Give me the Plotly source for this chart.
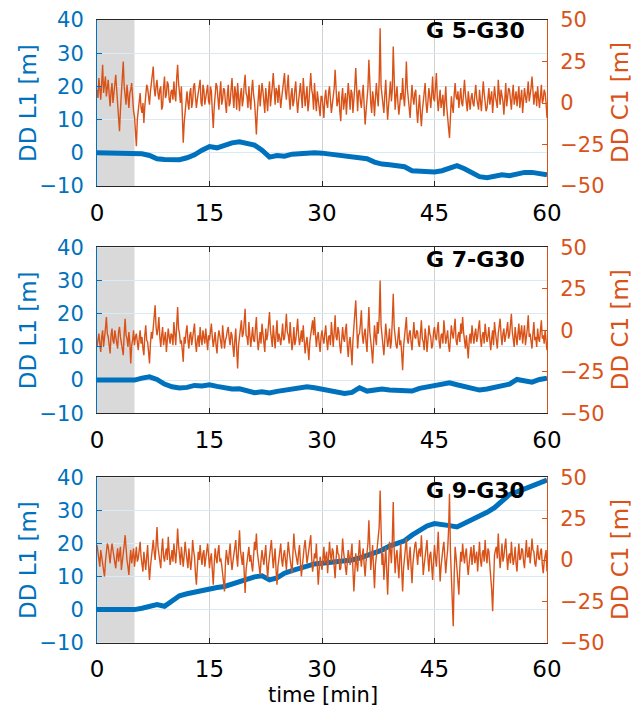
import plotly.graph_objects as go

# ---------------- data ----------------
time_l1 = list(range(0, 61))  # minutes, 1-min samples for DD L1

x_ticks = [0, 15, 30, 45, 60]
l1_ticks = [-10, 0, 10, 20, 30, 40]
c1_ticks = [-50, -25, 0, 25, 50]
pair_names = ["G 5-G30", "G 7-G30", "G 9-G30"]

l1_g5 = [0, 0, 0, 0, 0, 0, -0.3, -0.8, -1.8, -2.0, -1.9, -2.1, -1.5, -0.6, 0.8, 1.9, 1.5, 2.2, 3.0, 3.3,
         2.9, 2.3, 0.8, -1.3, -0.8, -1.0, -0.4, -0.2, 0.1, 0.0, -0.1, -0.4, -0.7, -0.9, -1.1, -1.6, -1.8, -2.8, -3.4, -3.6,
         -3.8, -4.2, -5.4, -5.6, -5.7, -5.8, -5.4, -4.6, -3.9, -4.8, -6.0, -7.2, -7.5, -7.1, -6.6, -6.9, -6.3, -5.9, -5.9, -6.4,
         -6.6]
l1_g7 = [0, 0, 0, 0, 0, 0, 0.6, 1.0, 0.2, -1.2, -2.0, -2.4, -2.2, -1.6, -1.8, -1.4, -1.9, -2.3, -2.7, -2.6,
         -3.2, -3.8, -3.5, -3.9, -3.4, -3.1, -2.8, -2.4, -2.0, -2.3, -2.7, -3.0, -3.5, -4.0, -3.7, -2.3, -3.3, -3.0, -2.7, -3.0,
         -3.1, -2.9, -3.3, -2.5, -2.0, -1.5, -1.2, -0.8, -1.4, -2.0, -2.5, -3.0, -2.7, -2.2, -1.8, -1.2, 0.2, -0.3, -0.6, 0.2,
         0.6]
l1_g9 = [0, 0, 0, 0, 0, 0, 0.4, 0.9, 1.5, 1.0, 2.8, 4.2, 4.8, 5.3, 6.0, 6.4, 6.7, 7.0, 7.8, 8.6,
         9.3, 9.9, 10.2, 9.0, 9.6, 11.0, 11.8, 12.4, 13.2, 13.8, 14.0, 14.2, 14.6, 14.8, 15.0, 15.6, 16.3, 17.0, 18.0, 19.2,
         20.0, 20.8, 22.5, 24.0, 25.3, 26.0, 25.8, 25.4, 25.0, 26.0, 27.0, 28.3, 29.4, 30.8, 33.0, 34.8, 35.6, 36.6, 37.6, 38.4,
         39.2]

# DD C1, 7.5-s samples (0 .. 60 min)
c1_g5 = [8, 3, 15, 9, 2, 12, 23, 6, 10, 16, 4, 11, 14, 5, -2, 7, 12, 0, 6, 13, 17, 8, 1, -6, -17, -4, 9, 14, 25, 10, 5, -1, 11, 4, -3, 6, 8, 12, 2, -5,
         -8, -15, -26, -10, -4, 2, 6, -3, -6, 0, -12, -2, 3, 11, 9, 1, -1, 7, 12, 15, 22, 9, 4, 10, 14, 6, 2, 8, 10, -4, -2, 9, 16, 3, 5, 13, 11, 2, 0, 7,
         8, 2, 13, 5, 1, 15, 23, 12, 6, 0, 10, -9, -24, -12, -5, 4, 7, 0, -4, 6, 9, -3, 1, 10, 12, 4, -3, 2, 6, 9, 14, 0, -2, 11, 8, -1, 3, 7, 11, 1,
         -1, 10, 7, -5, -15, -3, 4, 12, 10, 1, -4, 6, 13, -1, 2, 9, 8, 0, -6, 5, 11, -2, 0, 8, 15, 4, -3, 10, 6, -4, 12, 3, -5, 5, 9, -2, 2, 11, 17, 6,
         4, -3, 10, 2, -4, 8, 14, 5, 1, -8, -19, -6, 6, 11, -2, 4, 12, 7, 0, -6, 9, 1, -5, 6, 13, -2, 3, 10, 18, 5, -1, 9, 7, 0, 11, 4, -3, 3, 8, 13,
         18, 7, 2, 10, 17, 3, -4, 5, 9, -2, 1, 8, 13, 2, -6, 1, 8, 12, 4, -3, 15, 6, -2, 4, 10, -5, 0, 9, 18, 8, 5, -4, 12, 2, -5, 7, 3, -2, -8, 4,
         4, -2, -9, 3, 8, 0, -3, 6, 10, 2, -6, -1, 5, 9, 20, 4, -2, 1, 7, -5, -11, 3, 9, -4, 1, 6, -7, 2, 12, 5, -4, 8, 6, -6, 0, 10, 21, 3, -5, 7,
         8, 1, -3, 5, 11, -2, -13, -5, 4, 9, 26, 6, 0, -6, 7, 2, -8, 3, 12, 4, -2, 14, 45, 10, 3, -3, -6, 5, 14, 1, -10, -2, 9, 13, 1, 8, 34, 6, -4, 4,
         10, 0, -7, -1, 6, 2, 15, 4, -2, 8, 25, 9, 3, -4, -9, 2, 11, 3, -1, 6, 8, -4, -12, -3, 5, -6, -14, -5, 2, 7, 12, 0, -6, 1, 9, 4, -3, 5, 16, 3,
         1, 9, 18, 3, -5, 2, 8, -3, 0, 5, -8, 1, 10, -2, -11, -15, -21, -7, 4, -2, -6, 5, 12, 4, 2, 7, -3, 3, 9, 0, -2, 6, 14, 5, 1, -5, 7, 2, -4, 3,
         6, 0, -2, 5, 11, 3, 0, -4, 8, 2, -5, 4, 13, 6, 2, -5, -3, 3, 9, -1, 4, 7, -6, 0, 10, 4, 1, -3, 14, 6, -1, 8, 5, 1, -7, 4, 12, -2, 3, 9,
         8, 1, -4, 5, 11, -1, 2, 7, -2, 3, 10, -3, 5, 8, -6, 2, 9, 4, 0, 6, 13, 1, 4, 9, 16, 2, -1, 5, 7, -2, 10, 3, -3, 4, 11, 0, 2, 8, 6, 0,
         -9]
c1_g7 = [-10, -5, -2, -8, -13, -4, 0, -10, -6, 1, 8, -2, -4, -9, -14, -3, 1, -6, -8, 0, -3, -7, -11, -1, 2, -4, -7, -12, -15, -2, 7, -3, -5, -10, -1, -7, -20, -9, -6, 0,
         -9, -4, -2, -7, -12, -5, 0, -8, -4, -11, -15, -3, 3, -6, -7, -13, -20, -8, -1, -5, 4, 6, 15, 2, -3, 1, 8, -4, -10, -3, 2, -9, -6, -1, -13, -7, 1, -4, -8, -2,
         -3, -9, 5, -2, -9, 3, 14, 1, -2, -8, -6, -12, -19, -4, -8, -1, 3, -6, -11, -3, -1, -9, -5, 0, 4, -7, -13, -6, -3, -10, 2, -5, -9, 0, -4, -8, 1, -6, -12, -3,
         -6, -1, 4, -4, -10, -6, -1, -9, -14, -5, 0, -3, -7, -11, 3, -2, -11, -6, -4, 0, 2, -5, -9, -1, -3, -10, -16, -6, 1, -12, -23, -9, -5, 2, 6, -4, -2, 5, 13, -3,
         -4, -9, 5, -3, -10, -4, 2, -6, -7, 1, 8, -5, -12, -6, -1, -8, 4, -2, -8, -13, 1, -6, -3, 2, 11, 0, -6, -10, 3, -4, -11, -2, 6, -7, -2, -5, -9, -3, 4, -6,
         -5, 1, 10, -1, -3, -8, 5, -4, -12, -7, 2, -9, -6, 0, 7, -3, -9, -5, 0, -7, 3, -6, -14, -8, -4, -11, -18, -7, -2, 1, 6, -3, 8, -2, -10, -4, -1, -8, -13, -4,
         0, -5, -8, -2, 3, -6, -12, -4, -3, -9, 5, -2, -10, -1, 9, -4, -6, 2, -1, -9, -14, -6, 2, -5, -7, 0, 4, -9, -16, -7, -4, -12, -21, -6, 6, 10, 18, 0, -11, -3,
         -2, 4, 12, -3, -8, -2, 1, -7, -13, 0, 14, -1, -5, -12, -20, -6, 3, -4, -9, 5, -2, 8, 30, 3, -6, -9, -15, -5, 4, -3, -10, -6, 1, -11, -7, 6, 22, 2, -4, -9,
         -11, -4, 2, -9, -6, -14, -24, -10, -3, 1, 8, -5, -8, -2, 0, -7, -12, -3, 5, -4, -5, 0, -1, -8, -10, -2, 6, -5, -7, -12, 1, -4, -13, -6, 3, -2, -4, -11, -9, -1,
         2, -4, -6, 0, 5, -7, -11, -3, -2, -8, 6, -1, -8, -4, 0, -9, -13, -5, 3, -2, -5, 1, 7, -6, -9, -3, -1, -7, 4, -2, 8, -1, -7, -11, -3, -10, -17, -6, -2, -8,
         3, -3, -8, -2, 1, -7, -4, 2, 6, -5, -10, -3, -1, -8, 4, -2, -7, -4, 2, -6, -12, -5, 0, -9, 5, -1, -6, -11, -2, 3, 7, -3, -9, -2, 1, -7, -4, 0, 5, -5,
         -3, 2, 10, -1, -6, -10, 2, -4, -9, -2, 4, -6, -1, 3, -8, -3, 3, -9, -5, 1, 9, -4, -2, -7, -11, -2, 5, -6, -4, -10, 1, -5, -7, 0, 6, -5, -3, -8, 0, -6,
         -12]
c1_g9 = [9, 4, 2, -4, 6, 1, -3, -7, -10, -1, 4, 10, 8, 3, -2, 5, 10, 6, 1, -3, -5, 2, 7, -1, 3, 8, -6, -2, 5, 9, 15, 4, 0, -4, -9, 0, 6, -2, 2, 7,
         -4, 3, 8, -1, 1, 6, 11, 2, -2, -7, 5, 0, -6, 2, 9, -3, -12, -4, 3, 7, 12, 5, 0, 9, 20, 8, 4, -1, -5, 6, 13, 2, -1, 4, 7, 0, 14, 5, -3, 1,
         6, -1, 10, 4, -2, 7, 19, 9, 3, -3, 8, 1, -4, 3, 11, 5, 1, -5, 7, 2, -6, 0, 12, 6, 2, -8, -15, -5, 5, 0, 9, 2, -3, 4, 6, -4, 0, 7, 10, 3,
         -5, 1, 4, -6, -15, -3, 7, 2, -2, 5, 9, -1, 1, -3, -8, -12, -19, -2, 6, 1, -3, 4, 10, 0, -6, -1, 3, 8, 12, 2, -4, 7, 18, 6, 2, -3, 5, -8, -20, -6,
         -2, 4, 8, -1, 3, -3, -7, 2, 11, 6, 16, 5, 1, -4, -9, 0, 6, 1, -3, 3, 9, -2, -11, -3, 4, 7, 12, 2, -5, 1, 7, -6, -15, -4, 2, 6, 10, 0, -4, 3,
         6, 0, -6, 3, 11, 5, 1, -3, -8, 4, 16, 7, 3, -1, -3, 4, 9, -2, -10, -4, 5, 8, 12, 3, -2, 2, 7, 9, 15, 1, -7, -2, 4, 1, 10, -3, -15, -6, 2, -2,
         -6, 1, 8, -2, 2, 5, -8, -1, 11, 3, -1, 7, 5, -4, -11, 0, 9, 4, 3, -6, -5, 2, 13, 5, 0, -4, -9, -1, 6, 2, -3, 4, 10, -6, -19, -8, 4, -2, -7, 3,
         12, 2, -4, 3, 7, -3, -10, -1, 3, 10, 24, 5, -6, 1, 9, -5, -17, -3, 5, 8, 14, 20, 42, 9, -3, 4, -12, -2, 8, -6, -21, -4, 11, 6, -2, 12, 35, 6, -8, 2,
         6, -3, -11, 2, 10, -6, -19, -5, 3, 8, 13, 1, -6, 2, 8, -4, -14, -2, 4, 9, 11, 1, -3, 5, 7, 2, 15, 4, -9, -3, 2, 6, 12, 1, -7, 3, 5, -4, -12, 0,
         9, 2, -4, 6, 17, 1, -13, -4, 3, 7, 11, -1, -8, 0, 6, 18, 40, 5, -15, -28, -40, -9, 8, 2, -6, -12, -21, -5, 5, -1, 10, 3, -2, 4, 7, -3, -9, -2, 4, 8,
         -3, 3, 9, -2, 1, 5, -7, 2, 11, 0, -4, 4, 6, -1, 12, 3, -2, 7, 5, -3, -9, -18, -31, -6, 3, 6, 8, 1, 16, 4, -5, 2, 10, -1, 2, 8, 13, 3, -6, 2,
         4, -2, 11, 3, -3, 1, 8, -2, -7, 3, 10, 0, 1, 7, 6, -1, -5, 4, 12, 2, 2, 8, -2, 4, 13, 6, 5, -2, -4, 3, 9, 1, 0, 5, 7, -3, -8, -1, 3, 6,
         -7]

l1_series = [l1_g5, l1_g7, l1_g9]
c1_series = [c1_g5, c1_g7, c1_g9]
shade_end = 5  # convergence period shaded (min)

# ---------------- style ----------------
BLUE = "#0072BD"
ORANGE = "#D95319"
FONT = "DejaVu Sans"
W, H = 641, 708
x_dom = [97 / W, 547 / W]
rows_px = [(20, 186), (247.3, 413.3), (477.3, 642.7)]
title_y_px = [30, 259, 490]

fig = go.Figure()
annotations = []
shapes = []
layout = dict(
    width=W, height=H, autosize=False,
    margin=dict(l=0, r=0, t=0, b=0, pad=0, autoexpand=False),
    paper_bgcolor="white", plot_bgcolor="white",
    showlegend=False,
    font=dict(family=FONT, size=21, color="black"),
)

for k in range(3):
    top, bot = rows_px[k]
    y_dom = [1 - bot / H, 1 - top / H]
    xa = "x" if k == 0 else f"x{k + 1}"
    yl = "y" if k == 0 else f"y{2 * k + 1}"
    yr = f"y{2 * k + 2}"
    xname = "xaxis" if k == 0 else f"xaxis{k + 1}"
    ylname = "yaxis" if k == 0 else f"yaxis{2 * k + 1}"
    yrname = f"yaxis{2 * k + 2}"

    layout[xname] = dict(
        domain=x_dom, anchor=yl, range=[0, 60], tickvals=x_ticks, automargin=False,
        showgrid=True, gridcolor="#d2d2d2", gridwidth=1,
        showline=True, linecolor="#262626", linewidth=1, mirror="ticks",
        ticks="inside", ticklen=5, tickcolor="#262626",
        tickfont=dict(family=FONT, size=23, color="black"),
        ticklabelstandoff=6, zeroline=False,
    )
    layout[ylname] = dict(
        domain=y_dom, anchor=xa, range=[-10, 40], tickvals=l1_ticks, automargin=False,
        showgrid=True, gridcolor="#d9eaf5", gridwidth=1,
        showline=True, linecolor=BLUE, linewidth=1,
        ticks="inside", ticklen=5, tickcolor=BLUE,
        tickfont=dict(family=FONT, size=21, color=BLUE),
        ticklabelstandoff=8, zeroline=False,
    )
    layout[yrname] = dict(
        overlaying=yl, anchor=xa, side="right", range=[-50, 50], tickvals=c1_ticks, automargin=False,
        showgrid=False, showline=True, linecolor=ORANGE, linewidth=1,
        ticks="inside", ticklen=5, tickcolor=ORANGE,
        tickfont=dict(family=FONT, size=21, color=ORANGE),
        ticklabelstandoff=8, zeroline=False,
    )

    shapes.append(dict(type="rect", xref=xa, yref=f"{yl} domain",
                       x0=0, x1=shade_end, y0=0, y1=1,
                       fillcolor="#d9d9d9", line=dict(width=0), layer="below"))

    c1 = c1_series[k]
    n = len(c1)
    time_c1 = [60.0 * i / (n - 1) for i in range(n)]

    fig.add_trace(go.Scatter(x=time_l1, y=l1_series[k], xaxis=xa, yaxis=yl,
                             mode="lines", line=dict(color=BLUE, width=5)))
    fig.add_trace(go.Scatter(x=time_c1, y=c1, xaxis=xa, yaxis=yr,
                             mode="lines", line=dict(color=ORANGE, width=1.4)))

    yc = 1 - ((top + bot) / 2) / H
    annotations.append(dict(text="DD L1 [m]", x=28 / W, y=yc, xref="paper", yref="paper",
                            textangle=-90, showarrow=False, xanchor="center", yanchor="middle",
                            font=dict(family=FONT, size=23, color=BLUE)))
    annotations.append(dict(text="DD C1 [m]", x=620 / W, y=yc, xref="paper", yref="paper",
                            textangle=-90, showarrow=False, xanchor="center", yanchor="middle",
                            font=dict(family=FONT, size=23, color=ORANGE)))
    annotations.append(dict(text=f"<b>{pair_names[k]}</b>", x=527 / W, y=1 - title_y_px[k] / H,
                            xref="paper", yref="paper", showarrow=False,
                            xanchor="right", yanchor="middle",
                            font=dict(family=FONT, size=22, color="black")))

annotations.append(dict(text="time [min]", x=323 / W, y=1 - 695 / H, xref="paper", yref="paper",
                        showarrow=False, xanchor="center", yanchor="middle",
                        font=dict(family=FONT, size=21, color="black")))

layout["annotations"] = annotations
layout["shapes"] = shapes
fig.update_layout(**layout)
fig.write_html("out.html")
